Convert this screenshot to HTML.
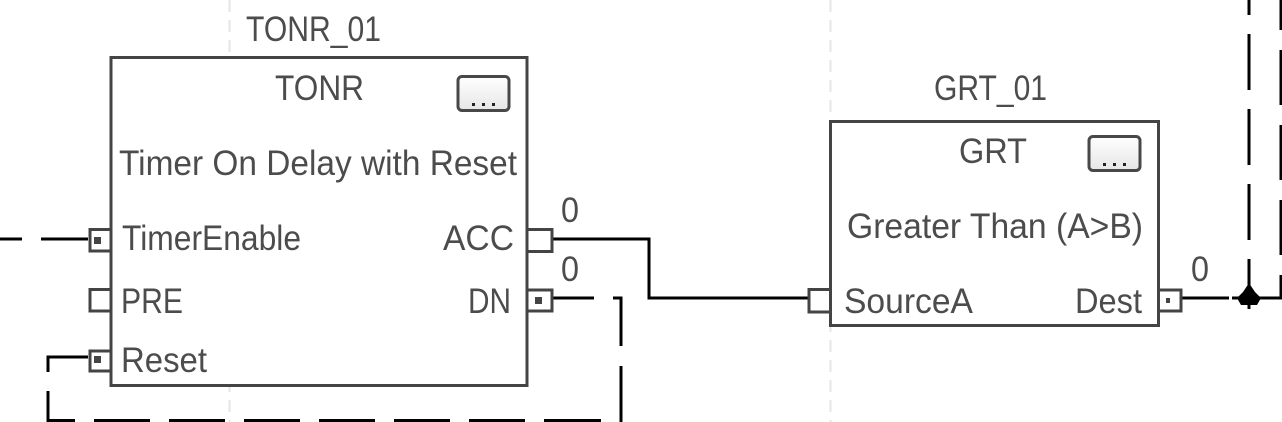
<!DOCTYPE html>
<html><head><meta charset="utf-8"><style>html,body{margin:0;padding:0;background:#fff;width:1282px;height:422px;overflow:hidden}svg{display:block}text{font-family:"Liberation Sans",sans-serif;font-size:35px;fill:#4c4c4c}</style></head><body>
<svg width="1282" height="422" viewBox="0 0 1282 422" xmlns="http://www.w3.org/2000/svg">
<defs><linearGradient id="b" x1="0" y1="0" x2="0" y2="1"><stop offset="0" stop-color="#fff"/><stop offset="1" stop-color="#e6e6e6"/></linearGradient></defs>
<g stroke="#e6e6e6" stroke-width="2" stroke-dasharray="12 8" fill="none"><path d="M229.500 0V422M830.500 0V422"/></g>
<g fill="none" stroke="#000" stroke-width="3">
<path d="M0 239H22M41 239H88"/>
<path d="M88 357H48V372M48 391V420.500H75M94 420.500H150M169 420.500H225M244 420.500H300M319 420.500H375M394 420.500H450M469 420.500H525M544 420.500H601M621 422V366M621 346V298H613M594 298H553"/>
<path d="M553 239H649V298H808"/>
<path d="M1182 298H1229M1232 298H1281V275M1281 255V200M1281 180V125M1281 105V50M1281 30V0"/>
<path d="M1249 0V15M1249 34V90M1249 109V165M1249 184V240M1249 259V309"/>
</g>
<path d="M1249 283L1255 292L1261 298L1257 305H1241L1237 298L1243 292Z" fill="#000"/>
<g fill="#fff" stroke="#444" stroke-width="3">
<path d="M111 229.500H90V251H111M111 289.500H90V311H111M111 351H90V371H111" />
<path d="M527 229.500H552V251.500H527M527 290H552V311H527"/>
<path d="M830 289.500H809V312H830M1159 290H1181V311H1159"/>
<rect x="111" y="57.500" width="416" height="328"/>
<rect x="830.500" y="121.500" width="328" height="204"/>
</g>
<g fill="#444"><rect x="94" y="237" width="7" height="7"/><rect x="94" y="356" width="7" height="7"/><rect x="535" y="297" width="7" height="7"/><rect x="1166" y="298" width="4" height="5"/></g>
<g fill="url(#b)" stroke="#484848" stroke-width="3"><rect x="458" y="76.500" width="51" height="34" rx="4"/><rect x="1089" y="136.500" width="51" height="34" rx="4"/></g>
<g fill="#222"><rect x="472" y="103" width="3" height="3"/><rect x="482" y="103" width="3" height="3"/><rect x="492" y="103" width="3" height="3"/><rect x="1103" y="163" width="3" height="3"/><rect x="1113" y="163" width="3" height="3"/><rect x="1123" y="163" width="3" height="3"/></g>
<g>
<text x="246" y="41" textLength="135" lengthAdjust="spacingAndGlyphs">TONR_01</text>
<text x="275" y="100" textLength="89" lengthAdjust="spacingAndGlyphs">TONR</text>
<text x="119" y="175" textLength="398" lengthAdjust="spacingAndGlyphs">Timer On Delay with Reset</text>
<text x="122" y="250" textLength="179" lengthAdjust="spacingAndGlyphs">TimerEnable</text>
<text x="121" y="313" textLength="62" lengthAdjust="spacingAndGlyphs">PRE</text>
<text x="121" y="372" textLength="86" lengthAdjust="spacingAndGlyphs">Reset</text>
<text x="443" y="250" textLength="71" lengthAdjust="spacingAndGlyphs">ACC</text>
<text x="468" y="313" textLength="43" lengthAdjust="spacingAndGlyphs">DN</text>
<text x="561" y="222" textLength="18" lengthAdjust="spacingAndGlyphs">0</text>
<text x="561" y="281" textLength="18" lengthAdjust="spacingAndGlyphs">0</text>
<text x="934" y="100" textLength="113" lengthAdjust="spacingAndGlyphs">GRT_01</text>
<text x="959" y="163" textLength="68" lengthAdjust="spacingAndGlyphs">GRT</text>
<text x="847" y="238" textLength="296" lengthAdjust="spacingAndGlyphs">Greater Than (A&gt;B)</text>
<text x="844" y="313" textLength="129" lengthAdjust="spacingAndGlyphs">SourceA</text>
<text x="1075" y="313" textLength="67" lengthAdjust="spacingAndGlyphs">Dest</text>
<text x="1191" y="281" textLength="18" lengthAdjust="spacingAndGlyphs">0</text>
</g>
</svg>
</body></html>
